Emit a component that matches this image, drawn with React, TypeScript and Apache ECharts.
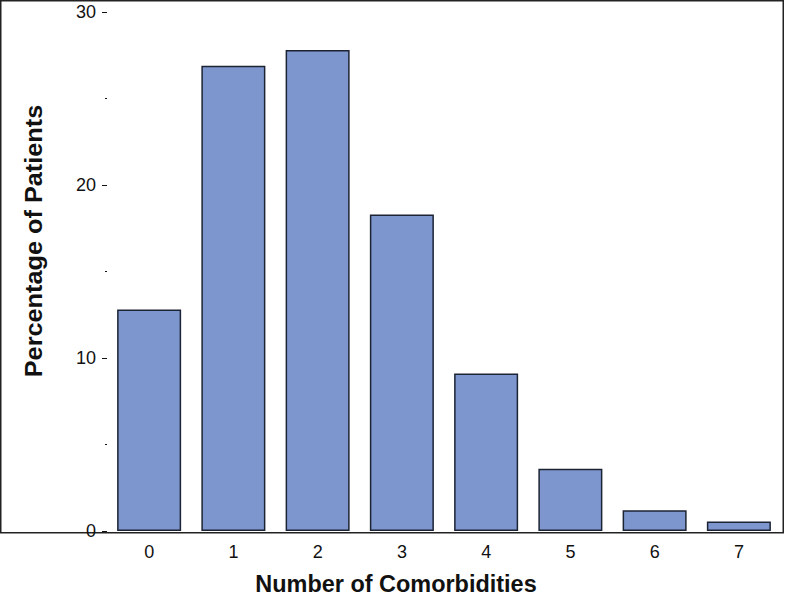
import React, { useEffect, useRef } from "react";
import * as echarts from "echarts";

const categories = ["0", "1", "2", "3", "4", "5", "6", "7"];
const percentages = [12.8, 26.9, 27.8, 18.3, 9.1, 3.6, 1.2, 0.55];
const yTicks = [0, 10, 20, 30];

export default function App() {
  const ref = useRef<HTMLDivElement>(null);
  useEffect(() => {
    if (!ref.current) return;
    const chart = echarts.init(ref.current, undefined, { renderer: "svg" });
    const font = "'Liberation Sans', Arial, Helvetica, sans-serif";
    chart.setOption({
      animation: false,
      backgroundColor: "#ffffff",
      grid: { left: 107, right: 5, top: 12, bottom: 66, containLabel: false },
      xAxis: {
        type: "category",
        data: categories,
        axisLine: { show: false },
        axisTick: { show: false },
        axisLabel: { color: "#111", fontSize: 18, fontFamily: font, margin: 12 },
      },
      yAxis: {
        type: "value",
        min: yTicks[0],
        max: yTicks[yTicks.length - 1],
        interval: 10,
        axisLine: { show: false },
        axisTick: { show: true, length: 5, lineStyle: { color: "#111", width: 1 } },
        minorTick: { show: true, splitNumber: 2, length: 2, lineStyle: { color: "#111", width: 1 } },
        splitLine: { show: false },
        axisLabel: { color: "#111", fontSize: 18, fontFamily: font, margin: 11 },
      },
      series: [
        {
          type: "bar",
          data: percentages,
          barCategoryGap: "24%",
          itemStyle: { color: "#7d97ce", borderColor: "#1c2333", borderWidth: 1.5 },
        },
      ],
      graphic: [
        {
          type: "rect",
          shape: { x: 0.75, y: 0.75, width: 782.5, height: 532 },
          style: { fill: "none", stroke: "#222", lineWidth: 1.5 },
          silent: true,
        },
        {
          type: "text",
          x: 396,
          y: 584,
          scaleX: 1.02,
          style: {
            text: "Number of Comorbidities",
            font: `bold 23px ${font}`,
            fill: "#111",
            align: "center",
            verticalAlign: "middle",
          },
        },
        {
          type: "text",
          x: 34,
          y: 241,
          rotation: Math.PI / 2,
          scaleX: 1.1,
          style: {
            text: "Percentage of Patients",
            font: `bold 23px ${font}`,
            fill: "#111",
            align: "center",
            verticalAlign: "middle",
          },
        },
      ],
    });
    return () => chart.dispose();
  }, []);
  return (
    <div
      ref={ref}
      style={{ position: "fixed", left: 0, top: 0, width: 786, height: 597 }}
    />
  );
}
